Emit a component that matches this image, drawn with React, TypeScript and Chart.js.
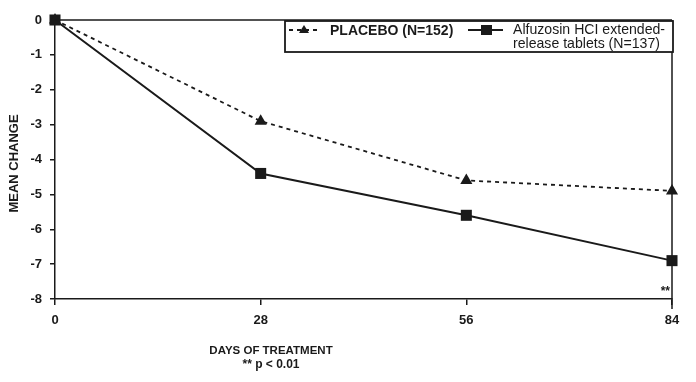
import React, { useEffect, useRef } from "react";
import { Chart, registerables } from "chart.js";

Chart.register(...registerables);

const days = [0, 28, 56, 84];
const placebo = [0, -2.9, -4.6, -4.9];
const alfuzosin = [0, -4.4, -5.6, -6.9];
const xTicks = [0, 28, 56, 84];
const yTicks = [0, -1, -2, -3, -4, -5, -6, -7, -8];
const placeboLabel = "PLACEBO (N=152)";
const alfLabel1 = "Alfuzosin HCI extended-";
const alfLabel2 = "release tablets (N=137)";
const xTitle = "DAYS OF TREATMENT";
const footnote = "** p < 0.01";
const yTitle = "MEAN CHANGE";

const INK = "#1a1a1a";
const FONT = "'Liberation Sans', Arial, sans-serif";

const decorPlugin = {
  id: "decor",
  afterDraw(chart: any) {
    const ctx = chart.ctx;
    const a = chart.chartArea;
    ctx.save();
    ctx.strokeStyle = INK;
    ctx.lineWidth = 1.5;
    ctx.beginPath();
    ctx.moveTo(a.left, a.top);
    ctx.lineTo(a.right, a.top);
    ctx.moveTo(a.right, a.top);
    ctx.lineTo(a.right, a.bottom + 10);
    ctx.stroke();

    const lx = 285, ly = 21, lw = a.right - 285 + 1, lh = 31;
    ctx.fillStyle = "#fff";
    ctx.fillRect(lx, ly, lw, lh);
    ctx.lineWidth = 1.8;
    ctx.strokeRect(lx, ly, lw, lh);

    ctx.setLineDash([4, 4]);
    ctx.lineWidth = 2;
    ctx.beginPath();
    ctx.moveTo(289, 30);
    ctx.lineTo(321, 30);
    ctx.stroke();
    ctx.setLineDash([]);
    ctx.fillStyle = INK;
    ctx.beginPath();
    ctx.moveTo(304, 25);
    ctx.lineTo(309, 33);
    ctx.lineTo(299, 33);
    ctx.closePath();
    ctx.fill();
    ctx.font = "bold 14px " + FONT;
    ctx.textBaseline = "middle";
    ctx.textAlign = "left";
    ctx.fillText(placeboLabel, 330, 31);

    ctx.lineWidth = 2;
    ctx.beginPath();
    ctx.moveTo(468, 30);
    ctx.lineTo(503, 30);
    ctx.stroke();
    ctx.fillRect(481, 25, 11, 10);
    ctx.font = "15px " + FONT;
    ctx.save();
    ctx.translate(513, 0);
    ctx.scale(0.94, 1);
    ctx.fillText(alfLabel1, 0, 30);
    ctx.fillText(alfLabel2, 0, 44);
    ctx.restore();

    ctx.font = "bold 12px " + FONT;
    ctx.textAlign = "right";
    ctx.fillText("**", a.right - 2, a.bottom - 7);

    ctx.textAlign = "center";
    ctx.font = "bold 11.5px " + FONT;
    ctx.fillText(xTitle, 271, 351);
    ctx.font = "bold 12px " + FONT;
    ctx.fillText(footnote, 271, 365);

    ctx.translate(14, (a.top + a.bottom) / 2 + 4);
    ctx.rotate(-Math.PI / 2);
    ctx.font = "bold 13px " + FONT;
    ctx.fillText(yTitle, 0, 0);
    ctx.restore();
  },
};

export default function App() {
  const ref = useRef<HTMLCanvasElement>(null);
  useEffect(() => {
    if (!ref.current) return;
    const chart = new Chart(ref.current, {
      type: "line",
      data: {
        datasets: [
          {
            label: placeboLabel,
            data: days.map((d, i) => ({ x: d, y: placebo[i] })),
            borderColor: INK,
            backgroundColor: INK,
            borderWidth: 1.8,
            borderDash: [4, 4],
            pointStyle: "triangle",
            pointRadius: 7,
            pointBorderWidth: 0,
            clip: false as any,
          },
          {
            label: alfLabel1 + " " + alfLabel2,
            data: days.map((d, i) => ({ x: d, y: alfuzosin[i] })),
            borderColor: INK,
            backgroundColor: INK,
            borderWidth: 2,
            pointStyle: "rect",
            pointRadius: 7.8,
            pointBorderWidth: 0,
            clip: false as any,
          },
        ],
      },
      options: {
        animation: false,
        responsive: false,
        maintainAspectRatio: false,
        layout: { padding: { top: 20, right: 24, left: 0, bottom: 0 } },
        plugins: { legend: { display: false }, tooltip: { enabled: false } },
        scales: {
          x: {
            type: "linear",
            min: 0,
            max: 84,
            afterFit(s: any) {
              s.height = 83;
            },
            afterBuildTicks(s: any) {
              s.ticks = xTicks.map((v) => ({ value: v }));
            },
            grid: { drawOnChartArea: false, tickLength: 6, color: INK, lineWidth: 1.5 },
            border: { color: INK, width: 1.5 },
            ticks: {
              color: INK,
              padding: 8,
              font: { family: FONT, weight: "bold", size: 13 },
            },
          },
          y: {
            min: -8,
            max: 0,
            afterFit(s: any) {
              s.width = 55;
            },
            afterBuildTicks(s: any) {
              s.ticks = yTicks.map((v) => ({ value: v }));
            },
            grid: { drawOnChartArea: false, tickLength: 5, color: INK, lineWidth: 1.5 },
            border: { color: INK, width: 1.5 },
            ticks: {
              color: INK,
              padding: 8,
              font: { family: FONT, weight: "bold", size: 13 },
            },
          },
        },
      },
      plugins: [decorPlugin],
    });
    return () => chart.destroy();
  }, []);
  return (
    <div style={{ position: "fixed", left: 0, top: 0, width: 696, height: 382, background: "#fff" }}>
      <canvas ref={ref} width={696} height={382} style={{ display: "block" }} />
    </div>
  );
}
